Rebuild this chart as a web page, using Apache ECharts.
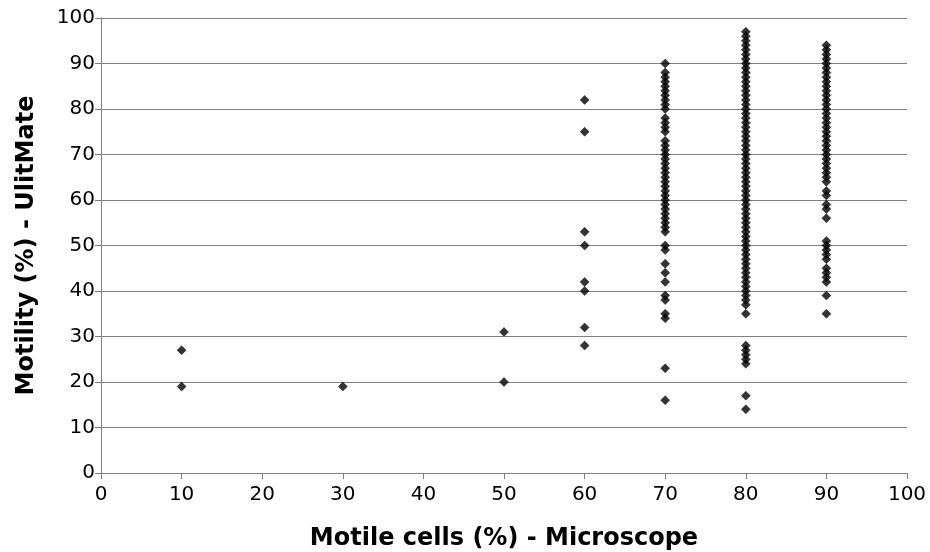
<!DOCTYPE html>
<html>
<head>
<meta charset="utf-8">
<script src="https://cdn.jsdelivr.net/npm/echarts@6/dist/echarts.min.js"></script>
<style>
  html, body { margin: 0; padding: 0; background: #fff; }
  #chart { width: 930px; height: 552px; }
</style>
</head>
<body>
<div id="chart"></div>
<script>
// Microscope reading (x) and UlitMate motility (y) per sample, grouped by x
const group10 = [27, 19];
const group30 = [19];
const group50 = [31, 20];
const group60 = [82, 75, 53, 50, 42, 40, 32, 28];
const group70 = [90, 88, 87, 86, 85, 84, 83, 82, 81, 80, 78, 77, 76, 75, 73, 72, 71, 70, 69,
  68, 67, 66, 65, 64, 63, 62, 61, 60, 59, 58, 57, 56, 55, 54, 53, 50, 49, 46, 44, 42,
  39, 38, 35, 34, 23, 16];
const group80 = [97, 96, 95, 94, 93, 92, 91, 90, 89, 88, 87, 86, 85, 84, 83, 82, 81, 80, 79,
  78, 77, 76, 75, 74, 73, 72, 71, 70, 69, 68, 67, 66, 65, 64, 63, 62, 61, 60, 59, 58, 57,
  56, 55, 54, 53, 52, 51, 50, 49, 48, 47, 46, 45, 44, 43, 42, 41, 40, 39, 38, 37, 35,
  28, 27, 26, 25, 24, 17, 14];
const group90 = [94, 93, 92, 91, 90, 89, 88, 87, 86, 85, 84, 83, 82, 81, 80, 79, 78, 77, 76,
  75, 74, 73, 72, 71, 70, 69, 68, 67, 66, 65, 64, 62, 61, 59, 58, 56, 51, 50, 49, 48, 47,
  45, 44, 43, 42, 39, 35];

const xGroups = [10, 30, 50, 60, 70, 80, 90];
const yGroups = [group10, group30, group50, group60, group70, group80, group90];

const xTicks = [0, 10, 20, 30, 40, 50, 60, 70, 80, 90, 100];
const yTicks = [0, 10, 20, 30, 40, 50, 60, 70, 80, 90, 100];

const xTitle = 'Motile cells (%) - Microscope';
const yTitle = 'Motility (%) - UlitMate';

const points = [];
xGroups.forEach((x, i) => yGroups[i].forEach(y => points.push([x, y])));

const font = '"DejaVu Sans", Verdana, sans-serif';
const chart = echarts.init(document.getElementById('chart'));
chart.setOption({
  animation: false,
  backgroundColor: '#ffffff',
  grid: { left: 101, right: 23, top: 18, bottom: 79, containLabel: false, outerBoundsMode: 'none' },
  xAxis: {
    type: 'value',
    min: xTicks[0], max: xTicks[xTicks.length - 1], interval: 10,
    name: xTitle,
    nameLocation: 'middle',
    nameGap: 54,
    nameTextStyle: { fontFamily: font, fontSize: 24, fontWeight: 'bold', color: '#000' },
    axisLine: { show: true, onZero: false, lineStyle: { color: '#808080', width: 1 } },
    axisTick: { show: true, inside: false, length: 6, lineStyle: { color: '#808080' } },
    axisLabel: { fontFamily: font, fontSize: 20, color: '#000', margin: 12 },
    splitLine: { show: false }
  },
  yAxis: {
    type: 'value',
    min: yTicks[0], max: yTicks[yTicks.length - 1], interval: 10,
    name: yTitle,
    nameLocation: 'middle',
    nameGap: 62,
    nameTextStyle: { fontFamily: font, fontSize: 24, fontWeight: 'bold', color: '#000' },
    axisLine: { show: true, lineStyle: { color: '#808080', width: 1 } },
    axisTick: { show: true, inside: false, length: 6, lineStyle: { color: '#808080' } },
    axisLabel: { fontFamily: font, fontSize: 20, color: '#000', margin: 6 },
    splitLine: { show: true, lineStyle: { color: '#808080', width: 1 } }
  },
  series: [{
    type: 'scatter',
    data: points,
    symbol: 'diamond',
    symbolSize: 9,
    itemStyle: { color: '#000000', borderColor: '#000000', borderWidth: 0.5 }
  }]
});
</script>
</body>
</html>
